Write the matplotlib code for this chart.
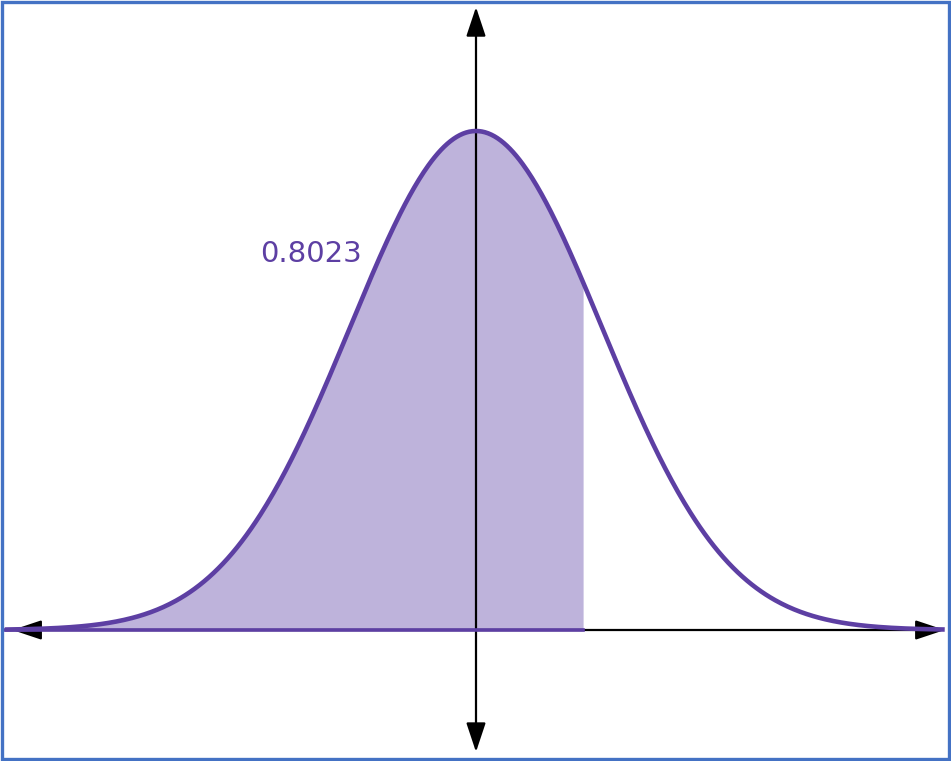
import numpy as np
import matplotlib
matplotlib.use('Agg')
import matplotlib.pyplot as plt
from matplotlib.patches import Rectangle

# Standard normal curve, area to the left of z shaded
z_cut = 0.85
area_label = "0.8023"
z_left, z_right = -3.74, 3.72

line_col = "#5d3fa3"
fill_col = "#beb3db"
border_col = "#4472c4"

z = np.linspace(z_left, z_right, 600)
pdf = np.exp(-z**2 / 2) / np.sqrt(2 * np.pi)

fig = plt.figure(figsize=(9.51, 7.61), dpi=100)
ax = fig.add_axes([0, 0, 1, 1])
ax.set_xlim(-476 / 126, (951 - 476) / 126)
ax.set_ylim(-131 / 1250.8, (761 - 131) / 1250.8)
ax.axis("off")

# shaded area
m = z <= z_cut
zs = np.append(z[m], z_cut)
ps = np.exp(-zs**2 / 2) / np.sqrt(2 * np.pi)
ax.fill_between(zs, 0, ps, color=fill_col, lw=0, zorder=1)

# axes with arrows
arrow = dict(arrowstyle="<|-|>,head_length=0.9,head_width=0.3",
             mutation_scale=20, lw=1.6, color="k", shrinkA=0, shrinkB=0)
ax.annotate("", xy=(-3.68, 0), xytext=(3.72, 0), arrowprops=arrow, zorder=2)
ax.annotate("", xy=(0, 0.498), xytext=(0, -0.0975), arrowprops=arrow, zorder=2)

# curve and purple baseline under shaded region
ax.plot(z, pdf, color=line_col, lw=3.3, zorder=3, solid_capstyle="butt")
ax.plot([z_left, z_cut], [0, 0], color=line_col, lw=2.6, zorder=3)

ax.text(-1.31, 0.294, area_label, color=line_col, fontsize=21,
        family="DejaVu Sans", ha="center", va="baseline")

# frame around the picture
fig.patches.append(Rectangle((0.0025, 0.003), 0.995, 0.994, transform=fig.transFigure,
                             fill=False, ec=border_col, lw=2.4))

fig.savefig("out.png", dpi=100)
